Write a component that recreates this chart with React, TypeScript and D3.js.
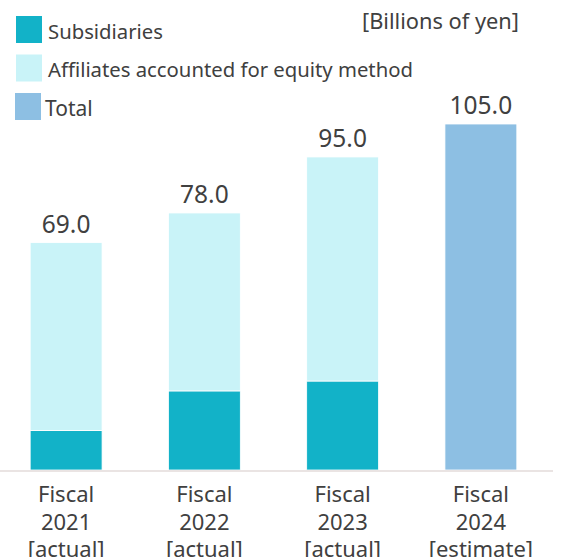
import * as d3 from 'd3';
import { useEffect } from 'react';

const categories = ['Fiscal 2021', 'Fiscal 2022', 'Fiscal 2023', 'Fiscal 2024'];
const categoryLines = [
    ['Fiscal', '2021', '[actual]'],
    ['Fiscal', '2022', '[actual]'],
    ['Fiscal', '2023', '[actual]'],
    ['Fiscal', '2024', '[estimate]'],
];
const subsidiaries = [12, 24, 27, 0];
const affiliates = [57, 54, 68, 0];
const totals = [69, 78, 95, 105];
const totalOnly = [0, 0, 0, 105];

const legendItems = ['Subsidiaries', 'Affiliates accounted for equity method', 'Total'];
const colors = ['#12b2c8', '#c9f3f8', '#8dbfe3'];

const width = 578;
const height = 557;
const baseline = 470;
const font = '"Noto Sans", "Open Sans", sans-serif';
const textColor = '#404040';

function App() {
    useEffect(() => {
        document.body.style.margin = '0';
    }, []);

    const x = d3.scaleBand(categories, [-3, 550]).paddingInner(0.48).paddingOuter(0.24);
    const y = d3.scaleLinear([0, 105], [baseline, 124]);

    const rows = categories.map((c, i) => ({
        cat: c,
        sub: subsidiaries[i],
        aff: affiliates[i],
        tot: totalOnly[i],
    }));
    const series = d3.stack().keys(['sub', 'aff', 'tot'])(rows);

    return (
        <svg width={width} height={height} style={{ display: 'block' }} fontFamily={font}>
            <g>
                {legendItems.map((d, i) => (
                    <g key={d} transform={`translate(0,${16 + i * 38.5})`}>
                        <rect x={i === 2 ? 15 : 16} y={0} width={26} height={27} fill={colors[i]} />
                        <text x={i === 2 ? 45 : 48} y={22.5} fontSize={i === 2 ? 21 : 20.3} fill={textColor}>{d}</text>
                    </g>
                ))}
                <text x={519} y={29} textAnchor="end" fontSize={21.8} fill={textColor}>[Billions of yen]</text>
            </g>
            {series.map((s, si) => (
                <g key={s.key} fill={colors[si]}>
                    {s.map((d, i) => d[1] - d[0] > 0 && (
                        <rect
                            key={i}
                            x={x(d.data.cat)}
                            y={y(d[1])}
                            width={x.bandwidth()}
                            height={y(d[0]) - y(d[1])}
                            stroke="#fff"
                            strokeWidth={0.8}
                        />
                    ))}
                </g>
            ))}
            <line x1={0} x2={553} y1={baseline + 1} y2={baseline + 1} stroke="#e3dbda" strokeWidth={1.5} />
            {totals.map((t, i) => (
                <text
                    key={i}
                    x={x(categories[i]) + x.bandwidth() / 2}
                    y={y(t) - 10}
                    textAnchor="middle"
                    fontSize={24.5}
                    fill={textColor}
                >
                    {t.toFixed(1)}
                </text>
            ))}
            {categoryLines.map((lines, i) => (
                <text
                    key={i}
                    x={x(categories[i]) + x.bandwidth() / 2}
                    y={502}
                    textAnchor="middle"
                    fontSize={22}
                    fill={textColor}
                >
                    {lines.map((l, j) => (
                        <tspan key={j} x={x(categories[i]) + x.bandwidth() / 2} dy={j === 0 ? 0 : 27.5}>{l}</tspan>
                    ))}
                </text>
            ))}
        </svg>
    );
}

export default App;
